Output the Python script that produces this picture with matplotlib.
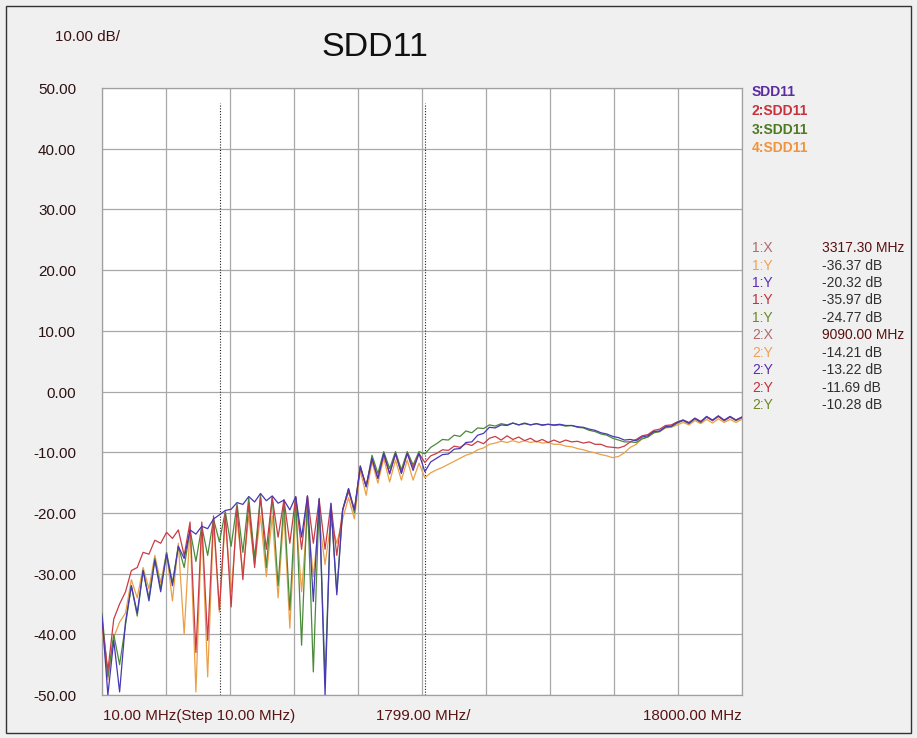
import numpy as np
import matplotlib
matplotlib.use("Agg")
import matplotlib.pyplot as plt
from matplotlib.patches import Rectangle

# ---------------- data ----------------
FREQ_START_MHZ = 10.0
FREQ_STEP_MHZ = 165.0
X_MIN, X_MAX = 10.0, 18000.0
Y_MIN, Y_MAX = -50.0, 50.0
Y_TICKS = [50, 40, 30, 20, 10, 0, -10, -20, -30, -40, -50]
X_DIVS = 10
MARKER_FREQS = [3317.30, 9090.00]

trace_sdd11 = [
    -37.0, -50.0, -41.0, -49.5, -38.0, -32.0, -36.5, -29.5, -34.5, -27.8,
    -33.0, -26.8, -32.0, -25.5, -27.5, -22.8, -23.5, -22.2, -22.6, -21.0,
    -20.32, -19.6, -19.4, -18.3, -18.6, -17.3, -18.2, -16.8, -18.0, -17.2,
    -18.4, -17.9, -19.5, -17.3, -24.0, -17.2, -34.6, -17.6, -50.0, -18.4,
    -33.5, -19.5, -16.0, -19.5, -12.4, -15.7, -11.0, -14.3, -10.2, -13.5,
    -10.2, -13.5, -10.2, -13.0, -10.2, -13.22, -11.6, -11.0, -10.4, -10.3,
    -9.5, -9.4, -8.4, -8.3, -7.2, -6.9, -5.9, -6.0, -5.5, -5.6,
    -5.2, -5.5, -5.2, -5.5, -5.3, -5.5, -5.4, -5.5, -5.4, -5.6,
    -5.6, -5.8, -5.9, -6.2, -6.4, -6.8, -7.0, -7.4, -7.6, -8.0,
    -7.9, -8.1, -7.5, -7.3, -6.6, -6.5, -5.8, -5.7, -5.1, -4.7,
    -5.2, -4.4, -5.0, -4.1, -4.7, -4.0, -4.7, -4.1, -4.7, -4.2,
]
trace_2 = [
    -38.0, -46.0, -37.5, -35.0, -33.0, -29.5, -29.0, -26.5, -26.8, -24.5,
    -25.0, -23.2, -24.2, -22.8, -27.0, -21.5, -43.0, -21.5, -41.0, -20.5,
    -35.97, -20.0, -35.5, -19.0, -31.0, -18.5, -29.0, -17.5, -26.0, -17.5,
    -24.0, -17.8, -25.0, -17.4, -26.0, -17.2, -25.0, -17.8, -26.0, -18.5,
    -27.0, -19.5, -16.5, -19.5, -12.4, -15.5, -11.2, -14.3, -10.4, -13.6,
    -10.3, -13.4, -10.2, -12.5, -10.2, -11.69, -10.6, -10.2, -9.6, -9.7,
    -9.0, -9.2, -8.6, -8.9, -8.2, -8.6, -7.7, -7.4, -8.0, -7.3,
    -7.9, -7.5, -8.1, -7.7, -8.3, -7.9, -8.4, -8.0, -8.4, -8.0,
    -8.3, -8.2, -8.5, -8.3, -8.7, -8.7, -9.1, -9.2, -9.3, -9.0,
    -8.3, -7.9, -7.3, -7.1, -6.4, -6.2, -5.6, -5.5, -5.0, -4.7,
    -5.1, -4.4, -4.9, -4.2, -4.8, -4.1, -4.8, -4.2, -4.7, -4.3,
]
trace_3 = [
    -36.5, -47.0, -40.0, -45.0, -38.5, -32.0, -37.0, -29.5, -34.0, -27.5,
    -32.5, -26.5, -31.5, -25.5, -29.0, -22.8, -28.0, -22.2, -27.0, -21.0,
    -24.77, -19.8, -25.5, -18.5, -26.5, -17.5, -27.5, -17.0, -29.0, -17.3,
    -32.0, -18.0, -36.0, -17.4, -41.8, -17.3, -46.2, -17.8, -47.5, -19.0,
    -33.0, -19.5, -16.0, -20.0, -12.2, -15.7, -10.5, -13.5, -9.9, -12.7,
    -9.9, -12.9, -9.9, -12.1, -9.9, -10.28, -9.2, -8.6, -7.9, -8.0,
    -7.2, -7.4, -6.5, -6.8, -6.0, -6.1, -5.5, -5.7, -5.3, -5.5,
    -5.2, -5.5, -5.3, -5.5, -5.3, -5.6, -5.4, -5.6, -5.5, -5.7,
    -5.6, -5.9, -6.0, -6.4, -6.6, -7.0, -7.2, -7.7, -8.0, -8.3,
    -8.3, -8.4, -7.8, -7.5, -6.8, -6.6, -5.9, -5.8, -5.2, -4.8,
    -5.3, -4.5, -5.1, -4.2, -4.8, -4.1, -4.8, -4.2, -4.8, -4.3,
]
trace_4 = [
    -38.5, -47.5, -40.5, -38.0, -36.5, -31.0, -34.0, -29.0, -32.5, -27.0,
    -31.5, -26.5, -34.5, -25.0, -40.0, -22.5, -49.5, -22.0, -47.0, -21.5,
    -36.37, -21.0, -33.0, -21.0, -30.0, -20.5, -28.5, -20.5, -30.5, -20.5,
    -34.0, -20.0, -39.0, -20.0, -33.0, -20.5, -30.5, -21.0, -28.5, -21.5,
    -25.0, -21.0, -17.5, -21.0, -13.0, -17.1, -11.6, -15.1, -11.0, -14.9,
    -11.3, -14.6, -11.3, -14.6, -11.8, -14.21, -13.4, -12.9, -12.5, -12.0,
    -11.5, -11.0, -10.5, -10.2, -9.6, -9.3, -8.7, -8.5, -8.2, -8.4,
    -8.1, -8.4, -8.1, -8.4, -8.2, -8.5, -8.4, -8.7, -8.7, -9.0,
    -9.1, -9.4, -9.6, -9.9, -10.1, -10.4, -10.6, -10.9, -10.7, -10.1,
    -9.2, -8.7, -7.8, -7.5, -6.8, -6.6, -6.0, -5.9, -5.5, -5.1,
    -5.5, -4.8, -5.3, -4.6, -5.2, -4.5, -5.1, -4.6, -5.1, -4.6,
]

legend_labels = ["SDD11", "2:SDD11", "3:SDD11", "4:SDD11"]
marker_labels = ["1:X", "1:Y", "1:Y", "1:Y", "1:Y", "2:X", "2:Y", "2:Y", "2:Y", "2:Y"]
marker_values = ["3317.30 MHz", "-36.37 dB", "-20.32 dB", "-35.97 dB", "-24.77 dB",
                 "9090.00 MHz", "-14.21 dB", "-13.22 dB", "-11.69 dB", "-10.28 dB"]
x_label_left = "10.00 MHz(Step 10.00 MHz)"
x_label_mid = "1799.00 MHz/"
x_label_right = "18000.00 MHz"
scale_label = "10.00 dB/"
title = "SDD11"

# ---------------- style ----------------
W, H = 917, 738
plt.rcParams['font.family'] = ['Liberation Sans', 'DejaVu Sans']

C_BLUE = '#4838b4'
C_RED = '#c83c46'
C_GREEN = '#4a8a3a'
C_ORANGE = '#eba048'
trace_colors = [C_BLUE, C_RED, C_GREEN, C_ORANGE]
legend_colors = ['#5a2ca0', '#c8323c', '#4e7a22', '#f0943c']
marker_label_colors = ['#b06a70', '#f0a050', '#5a2cb0', '#c0303c', '#6a8a20',
                       '#b06a70', '#f0a050', '#5a2cb0', '#c0303c', '#6a8a20']

fig = plt.figure(figsize=(W / 100, H / 100), dpi=100, facecolor='#f0f0f0')
ax = fig.add_axes([102 / W, 1 - 695 / H, 640 / W, 607 / H])
ax.set_facecolor('white')

freqs = FREQ_START_MHZ + FREQ_STEP_MHZ * np.arange(len(trace_sdd11))
traces = [trace_sdd11, trace_2, trace_3, trace_4]
for tr, col in reversed(list(zip(traces, trace_colors))):
    ax.plot(freqs, tr, color=col, lw=0.9, zorder=3, clip_on=True)

ax.set_xlim(X_MIN, X_MAX)
ax.set_ylim(Y_MIN, Y_MAX)
ax.set_xticks(np.linspace(X_MIN, X_MAX, X_DIVS + 1))
ax.set_yticks(Y_TICKS)
ax.tick_params(length=0, labelbottom=False, labelleft=False)
ax.grid(True, color='#a8a8a8', lw=0.9, zorder=1)
for sp in ax.spines.values():
    sp.set_color('#a0a0a0')
    sp.set_linewidth(0.9)

for mf in MARKER_FREQS:
    ax.vlines(mf, Y_MIN, 47.5, colors='#202020', linestyles=(0, (1, 1.5)), lw=0.8, zorder=2)


def ftext(x, y, s, **kw):
    fig.text(x / W, 1 - y / H, s, **kw)


# y tick labels
for v in Y_TICKS:
    ypix = 88 + (Y_MAX - v) / (Y_MAX - Y_MIN) * 607
    ftext(76, ypix + 2, f"{v:.2f}", ha='right', va='center', fontsize=10.9, color='#2b1111')

ftext(55, 37, scale_label, ha='left', va='center', fontsize=10.9, color='#3a1010')
ftext(375, 48, title, ha='center', va='center', fontsize=24.5, color='#111111')

ftext(103, 716, x_label_left, ha='left', va='center', fontsize=10.9, color='#5a1212')
ftext(423, 716, x_label_mid, ha='center', va='center', fontsize=10.9, color='#5a1212')
ftext(742, 716, x_label_right, ha='right', va='center', fontsize=10.9, color='#5a1212')

for i, (lab, col) in enumerate(zip(legend_labels, legend_colors)):
    ftext(752, 92.3 + 18.7 * i, lab, ha='left', va='center', fontsize=10, fontweight='bold', color=col)

for i, (lab, val, col) in enumerate(zip(marker_labels, marker_values, marker_label_colors)):
    y = 248.3 + 17.4 * i
    ftext(752, y, lab, ha='left', va='center', fontsize=10, color=col)
    vcol = '#5a1010' if 'MHz' in val else '#303030'
    ftext(822, y, val, ha='left', va='center', fontsize=10, color=vcol)

fig.add_artist(Rectangle((6 / W, 1 - 733 / H), (911 - 6) / W, (733 - 6) / H,
                         transform=fig.transFigure, fill=False, ec='#333333', lw=1.0))

fig.savefig('out.png', dpi=100, facecolor=fig.get_facecolor())
